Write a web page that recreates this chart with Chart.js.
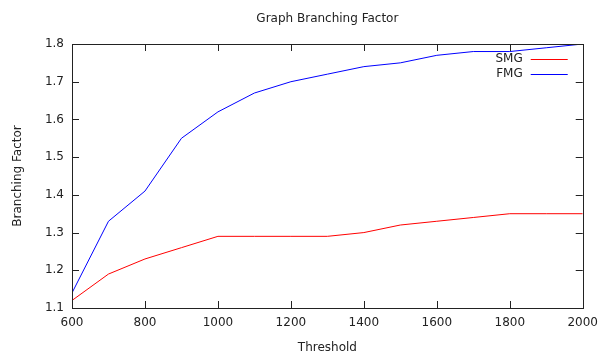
<!DOCTYPE html>
<html>
<head>
<meta charset="utf-8">
<script src="https://cdn.jsdelivr.net/npm/chart.js@4"></script>
<style>
  html, body { margin: 0; padding: 0; background: #fff; }
  #wrap { width: 606px; height: 354px; }
</style>
</head>
<body>
<div id="wrap"><canvas id="chart" width="606" height="354"></canvas></div>
<script>
// data
const thresholds = [600, 700, 800, 900, 1000, 1100, 1200, 1300, 1400, 1500, 1600, 1700, 1800, 1900, 2000];
const smgValues  = [1.12, 1.19, 1.23, 1.26, 1.29, 1.29, 1.29, 1.29, 1.30, 1.32, 1.33, 1.34, 1.35, 1.35, 1.35];
const fmgValues  = [1.14, 1.33, 1.41, 1.55, 1.62, 1.67, 1.70, 1.72, 1.74, 1.75, 1.77, 1.78, 1.78, 1.79, 1.80];
const seriesNames = ['SMG', 'FMG'];
const seriesColors = ['#ff0000', '#0000ff'];
const chartTitle = 'Graph Branching Factor';

const FONT = 'DejaVu Sans';
const TEXT = '#222';
const AXIS = '#222';
const TICK_LEN = 7;

// -----------------------------
// gnuplot-ish frame, inward ticks, title and key
// -----------------------------
const gnuplotLook = {
  id: 'gnuplotLook',
  afterDatasetsDraw(chart) {
    const {ctx, chartArea: a, scales} = chart;
    ctx.save();
    ctx.strokeStyle = AXIS;
    ctx.lineWidth = 1;
    ctx.strokeRect(Math.round(a.left) + 0.5, Math.round(a.top) + 0.5,
                   Math.round(a.right - a.left), Math.round(a.bottom - a.top));
    ctx.beginPath();
    scales.x.ticks.forEach(t => {
      const px = Math.round(scales.x.getPixelForValue(t.value)) + 0.5;
      ctx.moveTo(px, a.bottom); ctx.lineTo(px, a.bottom - TICK_LEN);
      ctx.moveTo(px, a.top); ctx.lineTo(px, a.top + TICK_LEN);
    });
    scales.y.ticks.forEach(t => {
      const py = Math.round(scales.y.getPixelForValue(t.value)) + 0.5;
      ctx.moveTo(a.left, py); ctx.lineTo(a.left + TICK_LEN, py);
      ctx.moveTo(a.right, py); ctx.lineTo(a.right - TICK_LEN, py);
    });
    ctx.stroke();

    // title centred over the plot area
    ctx.fillStyle = TEXT;
    ctx.font = '12px "' + FONT + '"';
    ctx.textAlign = 'center';
    ctx.textBaseline = 'middle';
    ctx.fillText(chartTitle, (a.left + a.right) / 2, 19);

    // key, top right inside the plot
    ctx.textAlign = 'right';
    chart.data.datasets.forEach((ds, i) => {
      const y = 59 + i * 15;
      ctx.fillStyle = TEXT;
      ctx.fillText(ds.label, a.right - 60, y);
      ctx.strokeStyle = ds.borderColor;
      ctx.beginPath();
      ctx.moveTo(a.right - 52, y + 0.5);
      ctx.lineTo(a.right - 15, y + 0.5);
      ctx.stroke();
    });
    ctx.restore();
  }
};

const toPoints = vals => thresholds.map((x, i) => ({x: x, y: vals[i]}));

new Chart(document.getElementById('chart'), {
  type: 'line',
  data: {
    datasets: [
      {label: seriesNames[0], data: toPoints(smgValues), borderColor: seriesColors[0], borderWidth: 1, pointRadius: 0, tension: 0},
      {label: seriesNames[1], data: toPoints(fmgValues), borderColor: seriesColors[1], borderWidth: 1, pointRadius: 0, tension: 0}
    ]
  },
  options: {
    responsive: false,
    animation: false,
    layout: {padding: {top: 44, right: 22, bottom: 0, left: 0}},
    plugins: {legend: {display: false}, title: {display: false}, tooltip: {enabled: false}},
    scales: {
      x: {
        type: 'linear', min: 600, max: 2000,
        afterFit: s => { s.height = 46; },
        grid: {drawOnChartArea: false, drawTicks: false},
        border: {display: false},
        ticks: {stepSize: 200, padding: 8, color: TEXT, font: {family: FONT, size: 12}, maxRotation: 0, callback: v => String(v)},
        title: {display: true, text: 'Threshold', color: TEXT, font: {family: FONT, size: 12, lineHeight: 1}, padding: {top: 0, bottom: 0}}
      },
      y: {
        min: 1.1, max: 1.8,
        afterFit: s => { s.width = 72; },
        grid: {drawOnChartArea: false, drawTicks: false},
        border: {display: false},
        ticks: {stepSize: 0.1, padding: 8, color: TEXT, font: {family: FONT, size: 12}, callback: v => v.toFixed(1)},
        title: {display: true, text: 'Branching Factor', color: TEXT, font: {family: FONT, size: 12}, padding: {top: 11, bottom: 0}}
      }
    }
  },
  plugins: [gnuplotLook]
});
</script>
</body>
</html>
